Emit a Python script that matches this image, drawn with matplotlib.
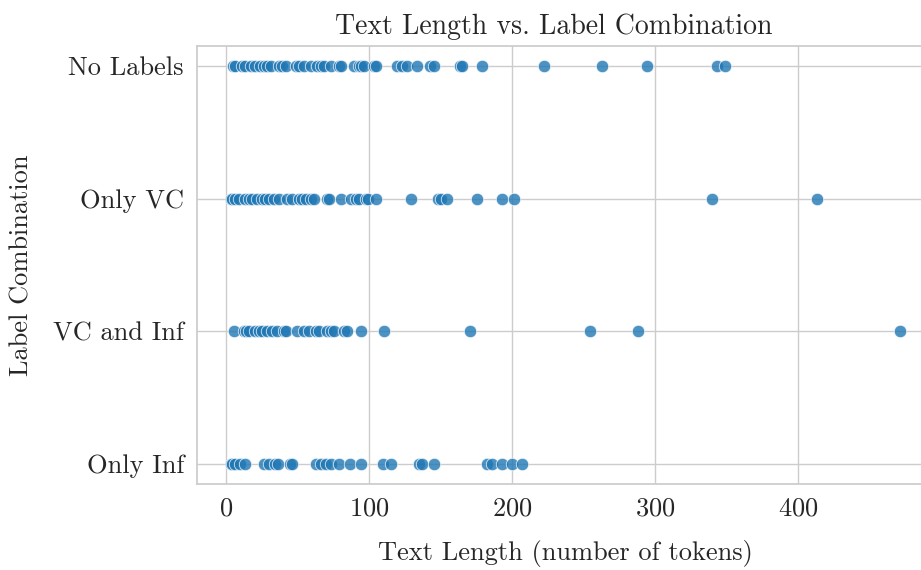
import matplotlib
matplotlib.use("Agg")
import matplotlib.pyplot as plt
import seaborn as sns
import pandas as pd

sns.set_theme(style="whitegrid")
plt.rcParams['font.family'] = ['cmr10', 'DejaVu Serif']
plt.rcParams['axes.formatter.use_mathtext'] = True
plt.rcParams['mathtext.fontset'] = 'cm'

categories = ["No Labels", "Only VC", "VC and Inf", "Only Inf"]

no_labels = [4.7, 6, 11, 13.3, 17, 20.3, 23.8, 26, 28.5, 31, 36.7, 39, 42, 48.4, 50.7,
             54, 58.9, 63.6, 66, 68.2, 72.9, 78.7, 80, 89.2, 92.7, 94, 96.2, 103.2,
             105, 119.6, 123.1, 126.6, 133.6, 142.5, 145, 163.5, 165, 178.7, 222.4,
             263, 294, 343, 349]
only_vc = [3, 4, 6.3, 9, 13.3, 15.6, 18, 21.5, 25, 27.3, 30, 33.1, 36.7, 42.5, 46,
           50.7, 53, 56, 58.9, 61.2, 70.6, 72, 79.9, 86.9, 90.4, 92.7, 97.4, 99,
           104.4, 129.4, 148, 150, 154, 175, 193, 201, 340, 413.5]
vc_and_inf = [5.6, 12.1, 14, 15.6, 20.3, 22.6, 25, 28.5, 32, 35.5, 40.2, 42, 49.5,
              54.2, 57.7, 62.4, 65, 70.6, 72.9, 75, 82.2, 84.6, 93.9, 110.2, 170.5,
              254.6, 288, 471]
only_inf = [3.3, 4, 6.3, 9.8, 13.3, 26.1, 29.6, 34.3, 36, 44.8, 46, 62.4, 65.9,
            69.4, 72.9, 78.7, 86.4, 94.4, 109.8, 115.4, 134.8, 137, 145, 182, 186,
            193, 200, 206.5]

lengths = [no_labels, only_vc, vc_and_inf, only_inf]
df = pd.DataFrame({
    "length": [v for vals in lengths for v in vals],
    "combo": [c for c, vals in zip(categories, lengths) for _ in vals],
})

fig = plt.figure(figsize=(9.21, 5.7), dpi=100)
ax = fig.add_axes([0.214, 0.151, 0.80, 0.768])
sns.scatterplot(data=df, x="length", y="combo", ax=ax, s=80, alpha=0.8,
                color="#1f77b4", edgecolor="white", linewidth=0.6)

ax.set_xlim(-20.5, 495)
ax.set_ylim(3.15, -0.15)
ax.set_xticks([0, 100, 200, 300, 400])
ax.tick_params(labelsize=19)
ax.set_title("Text Length vs. Label Combination", fontsize=20, x=0.484, pad=9)
ax.set_xlabel("Text Length (number of tokens)", fontsize=19, labelpad=14)
ax.set_ylabel("Label Combination", fontsize=19, labelpad=14)

fig.savefig("out.png", dpi=100)
